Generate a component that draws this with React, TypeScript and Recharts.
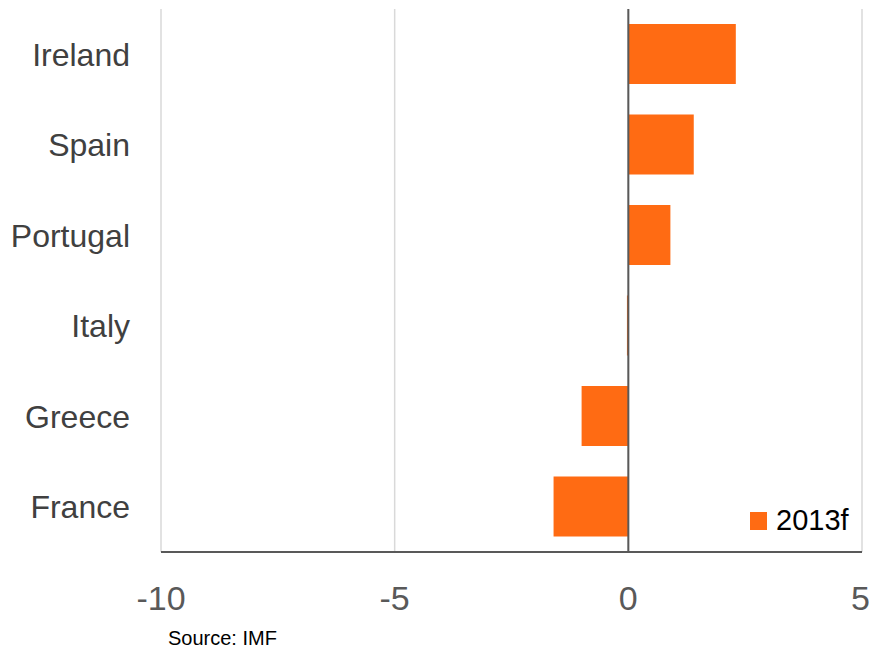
import React from 'react';
import { BarChart, Bar, XAxis, YAxis, CartesianGrid, ReferenceLine } from 'recharts';

const countries = ['Ireland', 'Spain', 'Portugal', 'Italy', 'Greece', 'France'];
const growth2013f = [2.3, 1.4, 0.9, -0.03, -1.0, -1.6];
const xTicks = [-10, -5, 0, 5];

const data = countries.map((country, i) => ({ country, value: growth2013f[i] }));

const ORANGE = '#ff6b13';

const App: React.FC = () => {
  return (
    <div style={{ position: 'relative', width: 869, height: 655, background: '#fff', fontFamily: '"Liberation Sans", Arial, sans-serif' }}>
      <style>{'body{margin:0}'}</style>
      <BarChart
        width={869}
        height={655}
        data={data}
        layout="vertical"
        margin={{ top: 9, right: 7, bottom: 33, left: 11 }}
      >
        <CartesianGrid horizontal={false} stroke="#d9d9d9" strokeWidth={1.5} />
        <XAxis
          type="number"
          domain={[-10, 5]}
          ticks={xTicks}
          height={70}
          tickLine={false}
          tickSize={0}
          tickMargin={34}
          axisLine={{ stroke: '#595959', strokeWidth: 2 }}
          tick={{ fill: '#595959', fontSize: 34 }}
        />
        <YAxis
          type="category"
          dataKey="country"
          width={150}
          tickLine={false}
          tickSize={0}
          tickMargin={31}
          axisLine={false}
          tick={{ fill: '#404040', fontSize: 32 }}
        />
        <Bar dataKey="value" name="2013f" fill={ORANGE} barSize={60} isAnimationActive={false} />
        <ReferenceLine x={0} stroke="#595959" strokeWidth={2} />
      </BarChart>
      <div style={{ position: 'absolute', left: 750, top: 504, display: 'flex', alignItems: 'center' }}>
        <span style={{ width: 17, height: 18, background: ORANGE, display: 'inline-block', marginRight: 9 }} />
        <span style={{ fontSize: 29, color: '#000' }}>2013f</span>
      </div>
      <div style={{ position: 'absolute', left: 168, top: 627, fontSize: 20, color: '#000' }}>Source: IMF</div>
    </div>
  );
};

export default App;
